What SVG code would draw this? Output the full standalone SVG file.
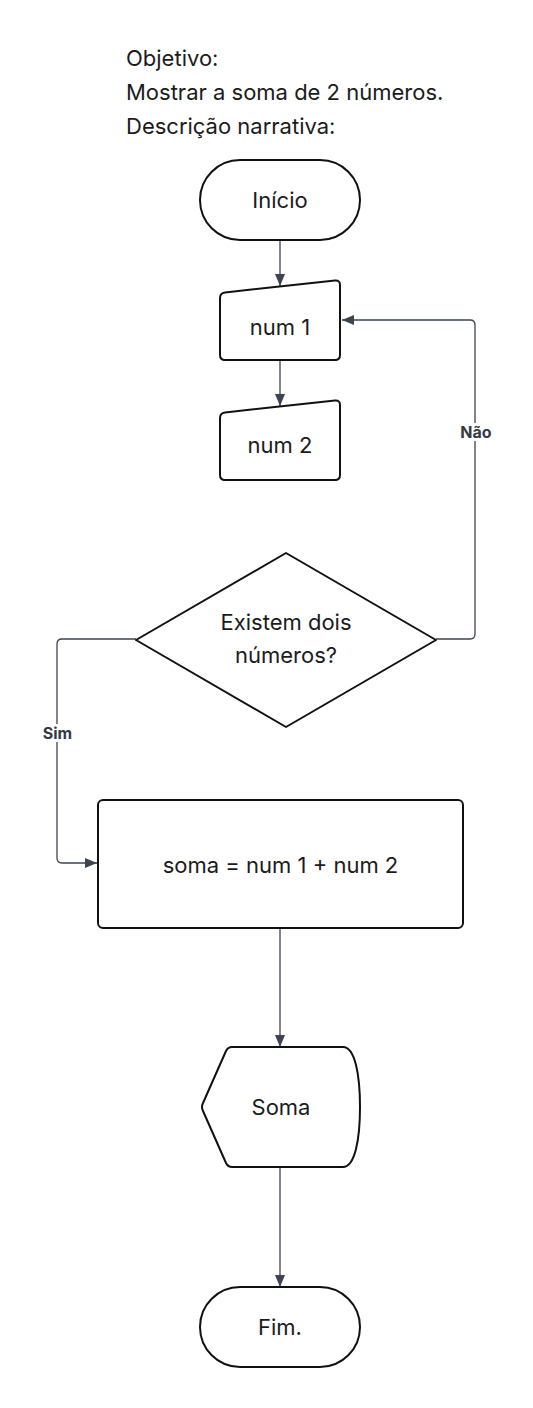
<svg xmlns="http://www.w3.org/2000/svg" width="533" height="1408" viewBox="0 0 533 1408">
<defs>
<marker id="arr" markerUnits="userSpaceOnUse" markerWidth="12" markerHeight="10" refX="12" refY="5" orient="auto">
<path d="M0,0 L12,5 L0,10 Z" fill="#3d4450"/>
</marker>
<style>
.t{font-family:Inter,"Noto Sans",sans-serif;font-size:22px;fill:#1b1b1b}
.c{text-anchor:middle}
.n{fill:#fff;stroke:#111;stroke-width:2;stroke-linejoin:round}
.e{fill:none;stroke:#3d4450;stroke-width:1.3}
.lb{font-family:Inter,"Noto Sans",sans-serif;font-size:16px;font-weight:bold;fill:#343a44;text-anchor:middle}
</style>
</defs>
<rect width="533" height="1408" fill="#fff"/>
<g id="header">
<text class="t" x="126" y="66">Objetivo:</text>
<text class="t" x="126" y="100">Mostrar a soma de 2 números.</text>
<text class="t" x="126" y="134">Descrição narrativa:</text>
</g>
<g id="connectors">
<path class="e" d="M280 240 L280 286" marker-end="url(#arr)"/>
<path class="e" d="M280 360 L280 406" marker-end="url(#arr)"/>
<path class="e" d="M436 639 L470 639 Q475 639 475 634 L475 325 Q475 320 470 320 L342 320" marker-end="url(#arr)"/>
<path class="e" d="M136 639 L62 639 Q57 639 57 644 L57 858 Q57 863 62 863 L97 863" marker-end="url(#arr)"/>
<path class="e" d="M280 928 L280 1047" marker-end="url(#arr)"/>
<path class="e" d="M280 1167 L280 1287" marker-end="url(#arr)"/>
<rect x="456" y="423" width="40" height="18" fill="#fff"/>
<text class="lb" x="476" y="438">Não</text>
<rect x="39" y="724" width="37" height="18" fill="#fff"/>
<text class="lb" x="57.5" y="739">Sim</text>
</g>
<g id="inicio">
<rect class="n" x="200" y="160" width="160" height="80" rx="40"/>
<text class="t c" x="280" y="208">Início</text>
</g>
<g id="num1">
<path class="n" d="M220 298 Q220 293 225 292.5 L335 280.5 Q340 280 340 285 L340 355 Q340 360 335 360 L225 360 Q220 360 220 355 Z"/>
<text class="t c" x="280" y="335">num 1</text>
</g>
<g id="num2">
<path class="n" d="M220 418 Q220 413 225 412.5 L335 400.5 Q340 400 340 405 L340 475 Q340 480 335 480 L225 480 Q220 480 220 475 Z"/>
<text class="t c" x="280" y="453">num 2</text>
</g>
<g id="decisao">
<path class="n" d="M286 553 L436 640 L286 727 L136 640 Z"/>
<text class="t c" x="286" y="630">Existem dois</text>
<text class="t c" x="286" y="663">números?</text>
</g>
<g id="soma">
<rect class="n" x="98" y="800" width="365" height="128" rx="5"/>
<text class="t c" x="280.5" y="873">soma = num 1 + num 2</text>
</g>
<g id="exibir">
<path class="n" d="M232 1047 L343 1047 C355 1047 360 1075 360 1107 C360 1139 355 1167 343 1167 L232 1167 Q228 1167 226 1163 L203 1111 Q201 1107 203 1103 L226 1051 Q228 1047 232 1047 Z"/>
<text class="t c" x="281" y="1115">Soma</text>
</g>
<g id="fim">
<rect class="n" x="200" y="1287" width="160" height="80" rx="40"/>
<text class="t c" x="280" y="1335">Fim.</text>
</g>
</svg>
